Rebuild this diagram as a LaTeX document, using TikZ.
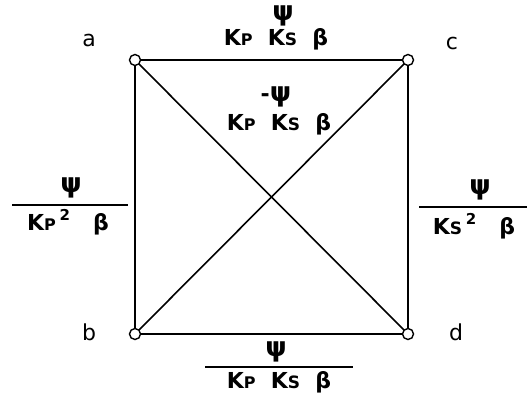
\documentclass[tikz,border=0pt]{standalone}
\usepackage{fontspec}
\setmainfont{DejaVu Sans}
\begin{document}
\begin{tikzpicture}[x=1pt,y=-1pt,
  vtx/.style={circle,draw,line width=1.4pt,fill=white,inner sep=0pt,minimum size=11pt},
  edge/.style={line width=1.6pt},
  lbl/.style={font=\fontsize{22}{26}\selectfont\bfseries,inner sep=0pt,anchor=center},
  ltr/.style={font=\fontsize{22}{24}\selectfont,inner sep=0pt}]
\useasboundingbox (0,0) rectangle (527,396);
\newcommand{\Kp}{K{\fontsize{16}{18}\selectfont P}}
\newcommand{\Ks}{K{\fontsize{17}{18}\selectfont S}}
\newcommand{\Sq}{\raisebox{10pt}{\fontsize{15}{16}\selectfont 2}}
\newcommand{\Psy}{{\fontsize{27}{28}\selectfont ψ}}
% vertices
\coordinate (pa) at (135,60);
\coordinate (pc) at (408,60);
\coordinate (pb) at (135,334);
\coordinate (pd) at (408,334);
\draw[edge] (pa) -- (pc) -- (pd) -- (pb) -- cycle;
\draw[edge] (pa) -- (pd);
\draw[edge] (pb) -- (pc);
\node[vtx] (a) at (pa) {};
\node[vtx] (c) at (pc) {};
\node[vtx] (b) at (pb) {};
\node[vtx] (d) at (pd) {};
% vertex letters
\node[ltr] (la) at (89,40) {a};
\node[ltr] (lc) at (452,43) {c};
\node[ltr] (lb) at (89,332) {b};
\node[ltr] (ld) at (456,332) {d};
% top label
\node[lbl] (t1) at (283,16) {\Psy};
\node[lbl] (t2) at (276,39) {\Kp\ \ \Ks\ \ β};
% inner label
\node[lbl] (i1) at (276,97) {-\Psy};
\node[lbl] (i2) at (279,124) {\Kp\ \ \Ks\ \ β};
% left label
\node[lbl] (l1) at (71,188) {\Psy};
\coordinate (l0a) at (12,205);
\coordinate (l0b) at (128,205);
\draw[edge] (l0a) -- (l0b);
\node[lbl] (l2) at (68,222) {\Kp\,\Sq\ \ \ β};
% right label
\node[lbl] (r1) at (480,190) {\Psy};
\coordinate (r0a) at (419,207);
\coordinate (r0b) at (527,207);
\draw[edge] (r0a) -- (r0b);
\node[lbl] (r2) at (474,226) {\Ks\,\Sq\ \ \ β};
% bottom label
\node[lbl] (b1) at (276,352) {\Psy};
\coordinate (b0a) at (205,367);
\coordinate (b0b) at (353,367);
\draw[edge] (b0a) -- (b0b);
\node[lbl] (b2) at (279,382) {\Kp\ \ \Ks\ \ β};
\end{tikzpicture}
\end{document}
